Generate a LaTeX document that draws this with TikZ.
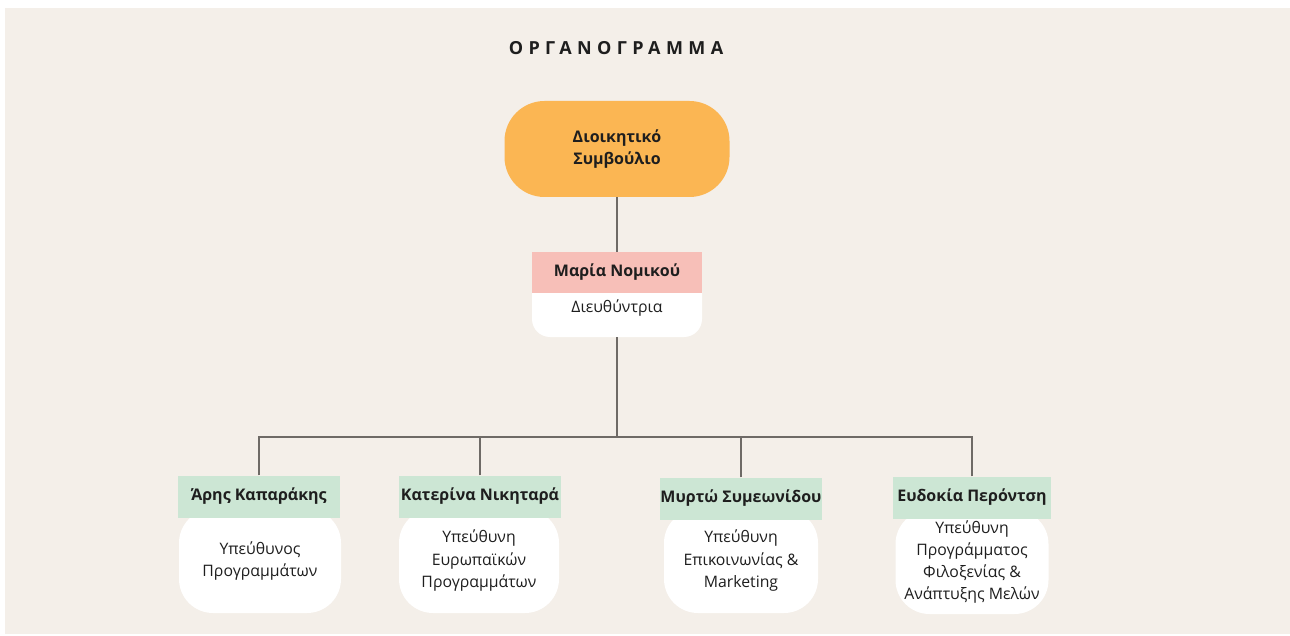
\documentclass[tikz,border=0pt]{standalone}
\usepackage{fontspec}
\setmainfont{Open Sans}
\newfontfamily\titlefont[LetterSpace=30]{Open Sans}
\definecolor{bgc}{HTML}{F4EFE9}
\definecolor{orangec}{HTML}{FBB653}
\definecolor{pinkc}{HTML}{F7BFB8}
\definecolor{greenc}{HTML}{CCE6D4}
\definecolor{linec}{HTML}{6E6A66}
\definecolor{txtc}{HTML}{1E1E1E}
\tikzset{
  x=1pt, y=1pt,
  every node/.style={text=txtc, inner sep=0pt, align=center},
  boardbox/.style={fill=orangec, minimum width=225, minimum height=96, rounded corners=40, font=\bfseries\fontsize{16}{22}\selectfont},
  namebox/.style={minimum width=162, minimum height=42, font=\bfseries\fontsize{16}{22}\selectfont},
  rolebox/.style={fill=white, rounded corners=34, font=\fontsize{15.8}{22.5}\selectfont},
  conn/.style={draw=linec, line width=1.3pt},
}
\begin{document}
\begin{tikzpicture}
\useasboundingbox (0,0) rectangle (1290,-636);
\fill[white] (0,0) rectangle (1290,-636);
\fill[bgc] (5,-8) rectangle (1290,-634);
\node[font=\titlefont\bfseries\fontsize{18}{20}\selectfont] (title) at (616,-48) {ΟΡΓΑΝΟΓΡΑΜΜΑ};
% board
\node[boardbox] (board) at (617,-149) {Διοικητικό\\Συμβούλιο};
% director
\node[rolebox, minimum width=170, minimum height=64, rounded corners=18] (mariarole) at (617,-305) {};
\node[namebox, fill=pinkc, minimum width=170, minimum height=41] (maria) at (617,-272.5) {Μαρία Νομικού};
\node[font=\fontsize{15.8}{22.5}\selectfont] (mariatitle) at (617,-308) {Διευθύντρια};
% managers
\node[rolebox, minimum width=162, minimum height=104] (r1) at (260,-561) {Υπεύθυνος\\Προγραμμάτων};
\node[namebox, fill=greenc] (g1) at (259,-496.5) {Άρης Καπαράκης};
\node[rolebox, minimum width=160, minimum height=104] (r2) at (479,-561) {Υπεύθυνη\\Ευρωπαϊκών\\Προγραμμάτων};
\node[namebox, fill=greenc] (g2) at (480,-496.5) {Κατερίνα Νικηταρά};
\node[rolebox, minimum width=154, minimum height=104] (r3) at (741,-561) {Υπεύθυνη\\Επικοινωνίας \&\\Marketing};
\node[namebox, fill=greenc, minimum width=161] (g3) at (741,-498.5) {Μυρτώ Συμεωνίδου};
\node[rolebox, minimum width=153, minimum height=104, font=\fontsize{15.8}{22}\selectfont] (r4) at (972,-562) {Υπεύθυνη\\Προγράμματος\\Φιλοξενίας \&\\Ανάπτυξης Μελών};
\node[namebox, fill=greenc, minimum width=158] (g4) at (972,-497.5) {Ευδοκία Περόντση};
% connectors
\coordinate (bus) at (617,-437);
\draw[conn] (board.south) -- (maria.north);
\draw[conn] (mariarole.south) -- (bus);
\draw[conn] (g1.north) |- (bus);
\draw[conn] (g2.north) |- (bus);
\draw[conn] (g3.north) |- (bus);
\draw[conn] (g4.north) |- (bus);
\end{tikzpicture}
\end{document}
